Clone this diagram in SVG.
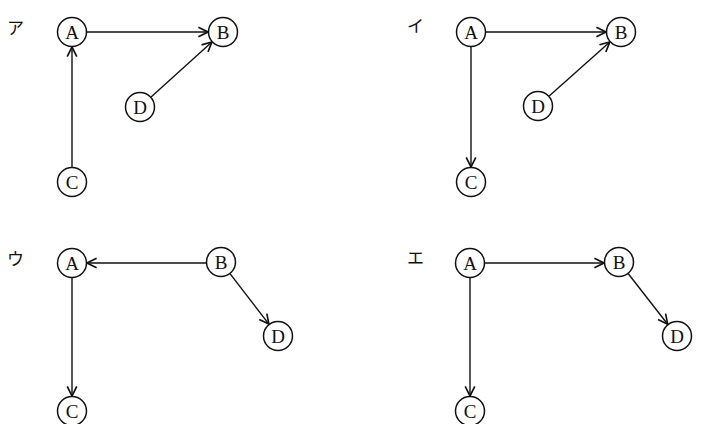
<svg xmlns="http://www.w3.org/2000/svg" width="712" height="424" viewBox="0 0 712 424">
<defs>
<style>
.n circle{fill:#fff;stroke:#111;stroke-width:1.5}
.n text{font-family:"Liberation Serif",serif;font-size:19px;fill:#111;text-anchor:middle}
.e line{stroke:#111;stroke-width:1.4;marker-end:url(#ah)}
.lbl{font-family:"Noto Sans CJK JP",sans-serif;font-size:17px;font-weight:400;fill:#111}
</style>
<marker id="ah" markerUnits="userSpaceOnUse" markerWidth="12" markerHeight="12" refX="9" refY="5" orient="auto" viewBox="0 0 10 10">
<path d="M1,1 L9,5 L1,9" fill="none" stroke="#111" stroke-width="1.4"/>
</marker>
</defs>
<rect width="712" height="424" fill="#fff"/>
<text class="lbl" x="7" y="34">ア</text>
<text class="lbl" x="407" y="32">イ</text>
<text class="lbl" x="7" y="265">ウ</text>
<text class="lbl" x="407" y="264">エ</text>
<g id="edges" class="e">
<line x1="87" y1="32" x2="208" y2="32"/>
<line x1="72" y1="167" x2="72" y2="47"/>
<line x1="151.1" y1="97" x2="211.9" y2="42"/>
<line x1="486" y1="32" x2="606" y2="32"/>
<line x1="471" y1="47" x2="471" y2="167"/>
<line x1="549.2" y1="96" x2="609.8" y2="42"/>
<line x1="206" y1="263" x2="87" y2="263"/>
<line x1="72" y1="278" x2="72" y2="396"/>
<line x1="230.2" y1="273.9" x2="268.9" y2="324.1"/>
<line x1="485" y1="263" x2="604" y2="263"/>
<line x1="470" y1="278" x2="470" y2="396"/>
<line x1="628.3" y1="273.8" x2="667.7" y2="324.2"/>
</g>
<g id="p1A" class="n"><circle cx="72" cy="32" r="14.5"/><text x="72" y="38.5">A</text></g>
<g id="p1B" class="n"><circle cx="223" cy="32" r="14.5"/><text x="223" y="38.5">B</text></g>
<g id="p1C" class="n"><circle cx="72" cy="182" r="14.5"/><text x="72" y="188.5">C</text></g>
<g id="p1D" class="n"><circle cx="140" cy="107" r="14.5"/><text x="140" y="113.5">D</text></g>
<g id="p2A" class="n"><circle cx="471" cy="32" r="14.5"/><text x="471" y="38.5">A</text></g>
<g id="p2B" class="n"><circle cx="621" cy="32" r="14.5"/><text x="621" y="38.5">B</text></g>
<g id="p2C" class="n"><circle cx="471" cy="182" r="14.5"/><text x="471" y="188.5">C</text></g>
<g id="p2D" class="n"><circle cx="538" cy="106" r="14.5"/><text x="538" y="112.5">D</text></g>
<g id="p3A" class="n"><circle cx="72" cy="263" r="14.5"/><text x="72" y="269.5">A</text></g>
<g id="p3B" class="n"><circle cx="221" cy="262" r="14.5"/><text x="221" y="268.5">B</text></g>
<g id="p3C" class="n"><circle cx="72" cy="411" r="14.5"/><text x="72" y="417.5">C</text></g>
<g id="p3D" class="n"><circle cx="278" cy="336" r="14.5"/><text x="278" y="342.5">D</text></g>
<g id="p4A" class="n"><circle cx="470" cy="263" r="14.5"/><text x="470" y="269.5">A</text></g>
<g id="p4B" class="n"><circle cx="619" cy="262" r="14.5"/><text x="619" y="268.5">B</text></g>
<g id="p4C" class="n"><circle cx="470" cy="411" r="14.5"/><text x="470" y="417.5">C</text></g>
<g id="p4D" class="n"><circle cx="677" cy="336" r="14.5"/><text x="677" y="342.5">D</text></g>
</svg>
